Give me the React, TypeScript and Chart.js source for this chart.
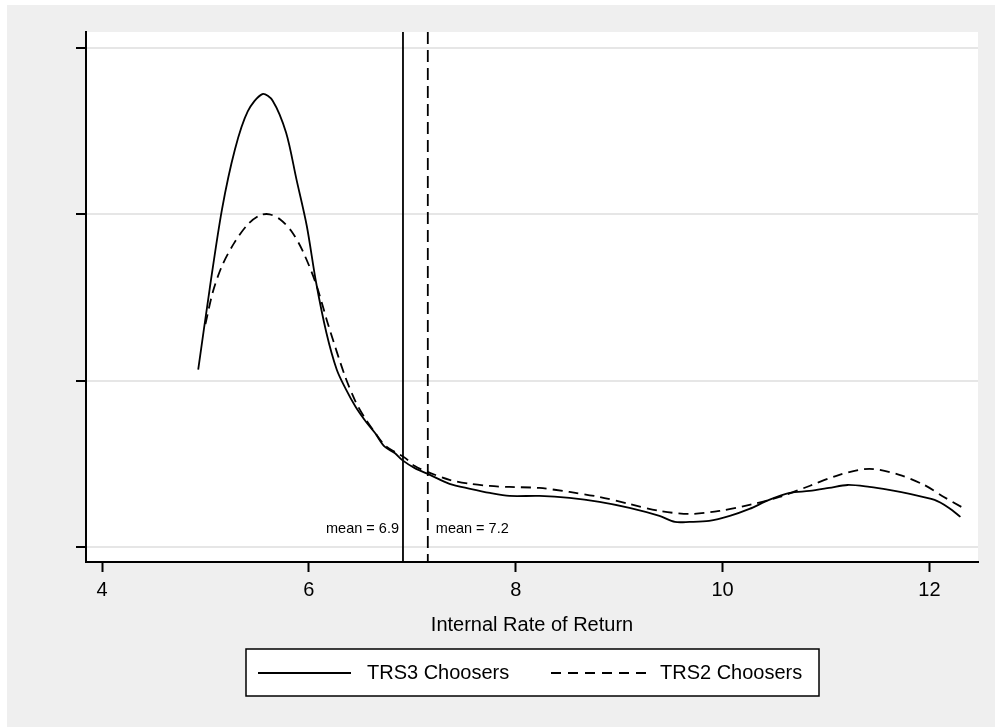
import React, { useEffect, useRef } from "react";
import { Chart, registerables } from "chart.js";

Chart.register(...registerables);

// ---- data ----
const TRS3_X = [4.93, 5.04, 5.16, 5.285, 5.41, 5.55, 5.65, 5.78, 5.88, 5.98, 6.07, 6.17, 6.27, 6.36, 6.45, 6.55, 6.64, 6.73, 6.83, 6.9, 7.02, 7.17, 7.36, 7.56, 7.75, 7.94, 8.23, 8.52, 8.81, 9.1, 9.39, 9.54, 9.68, 9.87, 10.07, 10.26, 10.45, 10.65, 10.84, 11.03, 11.21, 11.42, 11.61, 11.81, 12.05, 12.19, 12.3];
const TRS3_Y = [0.1066, 0.1548, 0.203, 0.239, 0.262, 0.2723, 0.2683, 0.249, 0.221, 0.193, 0.159, 0.1287, 0.1066, 0.0946, 0.0845, 0.0755, 0.0685, 0.0605, 0.0565, 0.0524, 0.0476, 0.0434, 0.038, 0.035, 0.0325, 0.0307, 0.0307, 0.0295, 0.0271, 0.0235, 0.0187, 0.0151, 0.0151, 0.0157, 0.0187, 0.0229, 0.0283, 0.0325, 0.0337, 0.0355, 0.0373, 0.0361, 0.0343, 0.0319, 0.0283, 0.0235, 0.0181];

const TRS2_X = [5.0, 5.07, 5.16, 5.28, 5.41, 5.53, 5.62, 5.72, 5.83, 5.94, 6.07, 6.19, 6.35, 6.45, 6.54, 6.64, 6.73, 6.83, 6.93, 7.02, 7.17, 7.36, 7.56, 7.75, 7.94, 8.23, 8.52, 8.81, 9.1, 9.39, 9.68, 9.97, 10.26, 10.55, 10.84, 11.13, 11.42, 11.71, 11.95, 12.14, 12.31];
const TRS2_Y = [0.134, 0.153, 0.169, 0.183, 0.194, 0.1995, 0.2, 0.197, 0.19, 0.178, 0.158, 0.133, 0.1026, 0.0876, 0.0777, 0.0687, 0.0614, 0.0572, 0.0536, 0.0488, 0.0446, 0.0404, 0.038, 0.0367, 0.0361, 0.0355, 0.0331, 0.0301, 0.0259, 0.0217, 0.0199, 0.0217, 0.0253, 0.0301, 0.0367, 0.0434, 0.047, 0.0434, 0.0373, 0.0301, 0.0241];

const SERIES_LABELS = ["TRS3 Choosers", "TRS2 Choosers"];
const MEAN_VALUES = [6.91, 7.15];
const MEAN_LABELS = ["mean = 6.9", "mean = 7.2"];
const X_TICKS = [4, 6, 8, 10, 12];
const Y_TICKS = [0, 0.1, 0.2, 0.3];
const X_TITLE = "Internal Rate of Return";

const FONT = '"Liberation Sans", Arial, Helvetica, sans-serif';

export default function App() {
  const ref = useRef<HTMLCanvasElement | null>(null);

  useEffect(() => {
    const canvas = ref.current;
    if (!canvas) return;

    const bgPlugin = {
      id: "stataBg",
      beforeDraw(chart: any) {
        const { ctx, chartArea } = chart;
        ctx.save();
        ctx.fillStyle = "#efefef";
        ctx.fillRect(7, 5, chart.width - 7, chart.height - 5);
        ctx.fillStyle = "#ffffff";
        ctx.fillRect(chartArea.left, chartArea.top, chartArea.right - chartArea.left, chartArea.bottom - chartArea.top);
        ctx.restore();
      },
      afterDatasetsDraw(chart: any) {
        const { ctx, chartArea, scales } = chart;
        const xs = scales.x;
        const ys = scales.y;
        ctx.save();
        MEAN_VALUES.forEach((v, i) => {
          const px = xs.getPixelForValue(v);
          ctx.beginPath();
          ctx.strokeStyle = "#000";
          ctx.lineWidth = 1.8;
          ctx.setLineDash(i === 0 ? [] : [12, 6]);
          ctx.moveTo(px, chartArea.top);
          ctx.lineTo(px, chartArea.bottom);
          ctx.stroke();
          ctx.setLineDash([]);
          ctx.fillStyle = "#000";
          ctx.font = `14.5px ${FONT}`;
          ctx.textBaseline = "alphabetic";
          const ty = ys.getPixelForValue(0) - 14;
          if (i === 0) {
            ctx.textAlign = "right";
            ctx.fillText(MEAN_LABELS[i], px - 4, ty);
          } else {
            ctx.textAlign = "left";
            ctx.fillText(MEAN_LABELS[i], px + 8, ty);
          }
        });
        ctx.restore();
      },
      afterDraw(chart: any) {
        const { ctx, chartArea } = chart;
        const cx = (chartArea.left + chartArea.right) / 2;
        const w = 573;
        const h = 47;
        const left = Math.round(cx - w / 2);
        const top = 649;
        const midY = top + 24;
        ctx.save();
        ctx.fillStyle = "#fff";
        ctx.fillRect(left, top, w, h);
        ctx.strokeStyle = "#000";
        ctx.lineWidth = 1.5;
        ctx.strokeRect(left, top, w, h);
        ctx.lineWidth = 1.8;
        ctx.beginPath();
        ctx.setLineDash([]);
        ctx.moveTo(left + 12, midY);
        ctx.lineTo(left + 105, midY);
        ctx.stroke();
        ctx.beginPath();
        ctx.setLineDash([10, 7]);
        ctx.moveTo(left + 305, midY);
        ctx.lineTo(left + 400, midY);
        ctx.stroke();
        ctx.setLineDash([]);
        ctx.fillStyle = "#000";
        ctx.font = `20px ${FONT}`;
        ctx.textAlign = "left";
        ctx.textBaseline = "middle";
        ctx.fillText(SERIES_LABELS[0], left + 121, midY);
        ctx.fillText(SERIES_LABELS[1], left + 414, midY);
        ctx.restore();
      },
    };

    const chart = new Chart(canvas, {
      type: "scatter",
      data: {
        datasets: [
          {
            label: SERIES_LABELS[0],
            data: TRS3_X.map((x, i) => ({ x, y: TRS3_Y[i] })),
            showLine: true,
            borderColor: "#000",
            backgroundColor: "#000",
            borderWidth: 1.8,
            pointRadius: 0,
            tension: 0.3,
            fill: false,
          },
          {
            label: SERIES_LABELS[1],
            data: TRS2_X.map((x, i) => ({ x, y: TRS2_Y[i] })),
            showLine: true,
            borderColor: "#000",
            backgroundColor: "#000",
            borderWidth: 1.8,
            borderDash: [10, 6],
            pointRadius: 0,
            tension: 0.3,
            fill: false,
          },
        ],
      },
      options: {
        responsive: false,
        animation: false,
        devicePixelRatio: 1,
        layout: { padding: { left: 0, right: 17, top: 32, bottom: 0 } },
        plugins: {
          legend: { display: false },
          tooltip: { enabled: false },
          title: { display: false },
        },
        scales: {
          x: {
            type: "linear",
            min: 3.845,
            max: 12.47,
            afterBuildTicks: (s: any) => {
              s.ticks = X_TICKS.map((v) => ({ value: v }));
            },
            afterFit: (s: any) => {
              s.height = 165;
            },
            grid: {
              drawOnChartArea: false,
              drawTicks: true,
              tickLength: 10,
              tickColor: "#000",
              tickWidth: 2,
            },
            border: { display: true, color: "#000", width: 2 },
            ticks: {
              color: "#000",
              font: { family: FONT, size: 20 },
              padding: 6,
              maxRotation: 0,
              autoSkip: false,
            },
            title: {
              display: true,
              text: X_TITLE,
              color: "#000",
              font: { family: FONT, size: 20 },
              padding: { top: 0, bottom: 90 },
            },
          },
          y: {
            type: "linear",
            min: -0.009,
            max: 0.3096,
            afterBuildTicks: (s: any) => {
              s.ticks = Y_TICKS.map((v) => ({ value: v }));
            },
            afterFit: (s: any) => {
              s.width = 86;
            },
            grid: {
              color: "#e6e6e6",
              lineWidth: 2,
              drawTicks: true,
              tickLength: 10,
              tickColor: "#000",
              tickWidth: 2,
            },
            border: { display: true, color: "#000", width: 2 },
            ticks: { display: false },
          },
        },
      },
      plugins: [bgPlugin],
    } as any);

    return () => chart.destroy();
  }, []);

  return (
    <div style={{ position: "absolute", left: 0, top: 0, width: 995, height: 727 }}>
      <canvas ref={ref} width={995} height={727} style={{ display: "block", width: 995, height: 727 }} />
    </div>
  );
}
